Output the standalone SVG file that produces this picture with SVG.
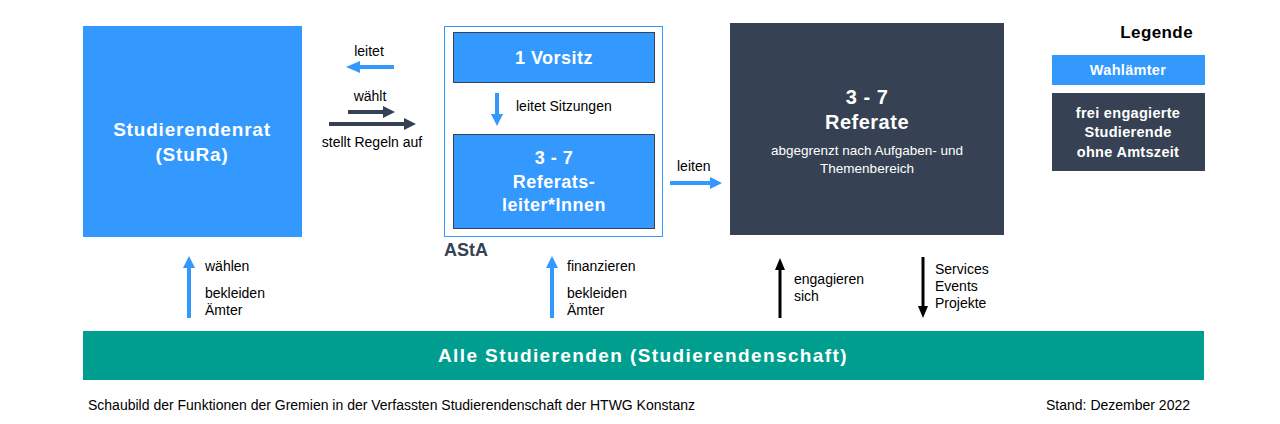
<svg xmlns="http://www.w3.org/2000/svg" width="1280" height="424" viewBox="0 0 1280 424">
<style>
text{font-family:"Liberation Sans",Arial,sans-serif}
.b{fill:#ffffff;font-weight:bold;text-anchor:middle}
.s{font-size:14px;fill:#000}
.blue{fill:#3399ff}
.dark{fill:#364253}
</style>
<rect width="1280" height="424" fill="#fff"/>
<g id="stura"><rect x="83" y="26" width="219" height="211" class="blue"/>
<text class="b" x="192" y="136" font-size="19" letter-spacing="0.8">Studierendenrat</text>
<text class="b" x="192" y="161" font-size="19" letter-spacing="0.8">(StuRa)</text></g>
<g id="asta"><rect x="444.5" y="26.5" width="218" height="210" fill="none" stroke="#3399ff"/>
<text x="444" y="256" font-size="18" font-weight="bold" fill="#364253">AStA</text></g>
<g id="vorsitz"><rect x="453.5" y="32.5" width="201" height="50" class="blue" stroke="#364253"/>
<text class="b" x="554" y="64" font-size="18" letter-spacing="0.5">1 Vorsitz</text></g>
<g id="referatsleiter"><rect x="453.5" y="134.5" width="201" height="94" class="blue" stroke="#364253"/>
<text class="b" x="554" y="164" font-size="18" letter-spacing="0.5">3 - 7</text>
<text class="b" x="554" y="188" font-size="18" letter-spacing="0.5">Referats-</text>
<text class="b" x="554" y="211" font-size="18" letter-spacing="0.5">leiter*Innen</text></g>
<g id="referate"><rect x="730" y="23" width="274" height="212" class="dark"/>
<text class="b" x="867" y="104" font-size="20" letter-spacing="0.5">3 - 7</text>
<text class="b" x="867" y="129" font-size="20" letter-spacing="0.5">Referate</text>
<text x="867" y="155" font-size="13.5" fill="#fff" text-anchor="middle">abgegrenzt nach Aufgaben- und</text>
<text x="867" y="173" font-size="13.5" fill="#fff" text-anchor="middle">Themenbereich</text></g>
<g id="alle"><rect x="83" y="331" width="1121" height="49" fill="#009e8e"/>
<text class="b" x="643" y="362" font-size="19" letter-spacing="1.4">Alle Studierenden (Studierendenschaft)</text></g>
<g id="legende"><text x="1193" y="38" font-size="17" font-weight="bold" text-anchor="end" letter-spacing="0.4">Legende</text>
<rect x="1052" y="55" width="153" height="30" class="blue"/>
<text class="b" x="1128" y="75" font-size="14.5" letter-spacing="0.3">Wahlämter</text>
<rect x="1052" y="93" width="153" height="78" class="dark"/>
<text class="b" x="1128" y="118" font-size="14.5" letter-spacing="0.3">frei engagierte</text>
<text class="b" x="1128" y="137" font-size="14.5" letter-spacing="0.3">Studierende</text>
<text class="b" x="1128" y="157" font-size="14.5" letter-spacing="0.3">ohne Amtszeit</text></g>
<g id="connectors">
<path d="M394 67H360" stroke="#3399ff" stroke-width="4"/><path d="M346 67l14-6v12z" fill="#3399ff"/>
<path d="M348 112H383" stroke="#364253" stroke-width="4"/><path d="M395 112l-12-6v12z" fill="#364253"/>
<path d="M329 124H404" stroke="#364253" stroke-width="4"/><path d="M416 124l-12-6v12z" fill="#364253"/>
<path d="M497 93V114" stroke="#3399ff" stroke-width="4"/><path d="M497 126l-6-12h12z" fill="#3399ff"/>
<path d="M670 183H710" stroke="#3399ff" stroke-width="4"/><path d="M722 183l-12-6v12z" fill="#3399ff"/>
<path d="M189 318V268" stroke="#3399ff" stroke-width="4"/><path d="M189 256l-6 12h12z" fill="#3399ff"/>
<path d="M552 318V268" stroke="#3399ff" stroke-width="4"/><path d="M552 256l-6 12h12z" fill="#3399ff"/>
<path d="M780 318V270" stroke="#000" stroke-width="3"/><path d="M780 258l-5 12h10z" fill="#000"/>
<path d="M923 257V306" stroke="#000" stroke-width="3"/><path d="M923 318l-5-12h10z" fill="#000"/>
</g>
<g id="labels">
<text class="s" x="369" y="56" text-anchor="middle">leitet</text>
<text class="s" x="370" y="101" text-anchor="middle">wählt</text>
<text class="s" x="372" y="147" text-anchor="middle">stellt Regeln auf</text>
<text class="s" x="516" y="111">leitet Sitzungen</text>
<text class="s" x="677" y="171">leiten</text>
<text class="s" x="205" y="271">wählen</text>
<text class="s" x="205" y="298">bekleiden</text>
<text class="s" x="205" y="315">Ämter</text>
<text class="s" x="567" y="271">finanzieren</text>
<text class="s" x="567" y="298">bekleiden</text>
<text class="s" x="567" y="315">Ämter</text>
<text class="s" x="794" y="284">engagieren</text>
<text class="s" x="794" y="301">sich</text>
<text class="s" x="935" y="274">Services</text>
<text class="s" x="935" y="291">Events</text>
<text class="s" x="935" y="308">Projekte</text>
<text class="s" x="88" y="410" font-size="13">Schaubild der Funktionen der Gremien in der Verfassten Studierendenschaft der HTWG Konstanz</text>
<text class="s" x="1190" y="410" font-size="13" text-anchor="end">Stand: Dezember 2022</text>
</g>
</svg>
